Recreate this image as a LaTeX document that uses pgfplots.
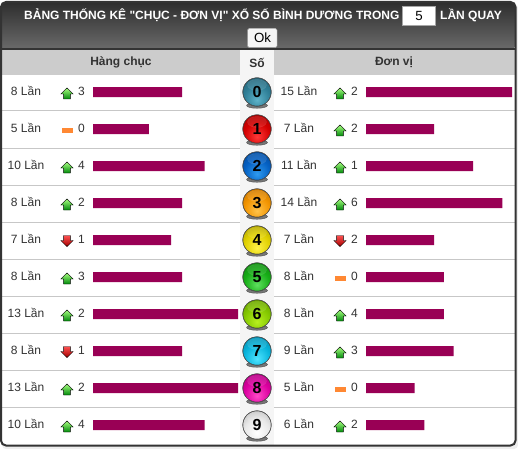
\documentclass[border=0pt]{standalone}
\usepackage{fontspec}
\setmainfont[Ligatures=TeXOff]{Liberation Sans}
\usepackage{pgfplots}
\pgfplotsset{compat=1.18}
\usepackage{pgfplotstable}
\definecolor{barc}{HTML}{990055}
\definecolor{txt}{HTML}{333333}
\definecolor{frame}{HTML}{333333}
\pgfplotstableread{
row left right
0 8 15
1 5 7
2 10 11
3 8 14
4 7 7
5 8 8
6 13 8
7 8 9
8 13 5
9 10 6
}\counts
% icon positions: x in pixels, y = row centre in pixels
\pgfplotstableread{
x y
67 93.5
67 167.5
67 204.5
67 278.5
67 315.5
67 389.5
67 426.5
340 93.5
340 130.5
340 167.5
340 204.5
340 315.5
340 352.5
340 426.5
}\upicons
\pgfplotstableread{
x y
67 241
67 352
340 241
}\downicons
\pgfplotstableread{
x y
67 130
340 278
340 389
}\flaticons
\pgfplotstableread{
x y d
257 92 0
257 129 1
257 166 2
257 203 3
257 240 4
257 277 5
257 314 6
257 351 7
257 388 8
257 425 9
}\digits
\definecolor{upt}{HTML}{A6FF80}
\definecolor{upb}{HTML}{00880A}
\definecolor{dnt}{HTML}{FF5050}
\definecolor{dnb}{HTML}{A00000}
\definecolor{flatc}{HTML}{FF8833}
\pgfdeclareplotmark{uparrow}{%
  \shade[top color=upt,bottom color=upb]
    (0,5.5pt)--(6.2pt,-0.5pt)--(3.4pt,-0.5pt)--(3.4pt,-5.5pt)--(-3.4pt,-5.5pt)--(-3.4pt,-0.5pt)--(-6.2pt,-0.5pt)--cycle;}
\pgfdeclareplotmark{downarrow}{%
  \shade[top color=dnt,bottom color=dnb]
    (0,-5.5pt)--(6.2pt,0.5pt)--(3.4pt,0.5pt)--(3.4pt,5.5pt)--(-3.4pt,5.5pt)--(-3.4pt,0.5pt)--(-6.2pt,0.5pt)--cycle;}
\pgfdeclareplotmark{flatmark}{%
  \fill[flatc] (-5pt,-2pt) rectangle (5pt,2pt);}
\newcommand\declball[4]{%
  \definecolor{bl#1}{HTML}{#2}\definecolor{bm#1}{HTML}{#3}\definecolor{bd#1}{HTML}{#4}%
  \pgfdeclareradialshading{shball#1}{\pgfpoint{0bp}{-14bp}}{%
    color(0bp)=(bl#1);color(22bp)=(bm#1);color(58bp)=(bd#1);color(100bp)=(bd#1)}%
  \pgfdeclareplotmark{ball#1}{%
    \fill[black!80,opacity=.65] (0,-13.5pt) ellipse (10.5pt and 2.8pt);
    \shade[shading=shball#1] (0,0) circle (14.2pt);
    \draw[black!60,line width=.4pt] (0,0) circle (14.2pt);
    \fill[white,opacity=.1] (0,7pt) ellipse (9.5pt and 5.5pt);
  }}
\declball{0}{5FB3C9}{2F7F97}{173F4F}
\declball{1}{FF3A3A}{D40000}{6A0000}
\declball{2}{2F9BEF}{0561C4}{02295F}
\declball{3}{FFC34A}{F29400}{8A4A00}
\declball{4}{FFF24A}{E0D000}{6F6800}
\declball{5}{5FE05F}{17AE17}{075207}
\declball{6}{B8F020}{84C800}{3F6400}
\declball{7}{4FE4FF}{08B4DC}{035870}
\declball{8}{FF4AC8}{DC00A0}{6A004E}
\declball{9}{FFFFFF}{E8E8E8}{8A8A8A}
\newcommand\rowtxt[5]{%
  \node[txt,font=\fontsize{12}{14}\selectfont] at (axis cs:26,#1-1) {#2 Lần};
  \node[txt,font=\fontsize{12}{14}\selectfont] at (axis cs:81.5,#1-1) {#3};
  \node[txt,font=\fontsize{12}{14}\selectfont] at (axis cs:299,#1-1) {#4 Lần};
  \node[txt,font=\fontsize{12}{14}\selectfont] at (axis cs:354.5,#1-1) {#5};
}
\begin{document}
\begin{tikzpicture}
\begin{axis}[at={(0pt,0pt)},anchor=south west,scale only axis,width=518pt,height=449pt,
  xmin=0,xmax=518,ymin=0,ymax=449,y dir=reverse,hide axis,clip=false]
\fill[white] (axis cs:0,0) rectangle (axis cs:518,449);
\fill[black!7,rounded corners=4pt] (axis cs:2,4) rectangle (axis cs:518,449);
\fill[white,rounded corners=5pt] (axis cs:1,2) rectangle (axis cs:515.5,445.5);
\shade[top color=black!82,bottom color=black!58,rounded corners=5pt]
  (axis cs:1,2) rectangle (axis cs:515.5,50);
\fill[white] (axis cs:2,50) rectangle (axis cs:514.5,444.5);
\fill[black!20] (axis cs:2,50) rectangle (axis cs:514.5,75);
\fill[black!4] (axis cs:240,50) rectangle (axis cs:274,444.5);
\foreach \yy in {111,148,185,222,259,296,333,370,407}{
  \edef\tmp{\noexpand\draw[black!22,line width=1pt] (axis cs:2,\yy) -- (axis cs:240,\yy);
  \noexpand\draw[black!22,line width=1pt] (axis cs:274,\yy) -- (axis cs:514.5,\yy);}\tmp}
\draw[frame,line width=2pt] (axis cs:1,49) -- (axis cs:515.5,49);
\draw[frame,line width=2pt,rounded corners=5pt] (axis cs:1,2) rectangle (axis cs:515.5,445.5);
% header
\node[white,font=\bfseries\fontsize{12}{14}\selectfont,anchor=west,inner sep=0pt] at (axis cs:24,15)
  {BẢNG THỐNG KÊ "CHỤC - ĐƠN VỊ" XỔ SỐ BÌNH DƯƠNG TRONG};
\filldraw[draw=black!35,fill=white] (axis cs:402.5,6.5) rectangle (axis cs:435.5,25.5);
\node[black,font=\fontsize{13.3}{14}\selectfont,inner sep=0pt] at (axis cs:419,16) {5};
\node[white,font=\bfseries\fontsize{12}{14}\selectfont,anchor=west,inner sep=0pt] at (axis cs:440,15) {LẦN QUAY};
\filldraw[draw=black!35,fill=black!4,rounded corners=1.5pt] (axis cs:247.5,28.5) rectangle (axis cs:277,47.5);
\node[black,font=\fontsize{13.3}{14}\selectfont] at (axis cs:262.5,38) {Ok};
\node[txt,font=\bfseries\fontsize{12}{14}\selectfont] at (axis cs:121,62.5) {Hàng chục};
\node[txt,font=\bfseries\fontsize{12}{14}\selectfont] at (axis cs:257,62.5) {Số};
\node[txt,font=\bfseries\fontsize{12}{14}\selectfont] at (axis cs:394,62.5) {Đơn vị};
% balls
\addplot[only marks,mark=ball0] coordinates {(257,92)};
\addplot[only marks,mark=ball1] coordinates {(257,129)};
\addplot[only marks,mark=ball2] coordinates {(257,166)};
\addplot[only marks,mark=ball3] coordinates {(257,203)};
\addplot[only marks,mark=ball4] coordinates {(257,240)};
\addplot[only marks,mark=ball5] coordinates {(257,277)};
\addplot[only marks,mark=ball6] coordinates {(257,314)};
\addplot[only marks,mark=ball7] coordinates {(257,351)};
\addplot[only marks,mark=ball8] coordinates {(257,388)};
\addplot[only marks,mark=ball9] coordinates {(257,425)};
% icons
\addplot[only marks,mark=uparrow] table[x=x,y=y] {\upicons};
\addplot[only marks,mark=downarrow] table[x=x,y=y] {\downicons};
\addplot[only marks,mark=flatmark] table[x=x,y=y] {\flaticons};
\rowtxt{92}{8}{3}{15}{2}
\rowtxt{129}{5}{0}{7}{2}
\rowtxt{166}{10}{4}{11}{1}
\rowtxt{203}{8}{2}{14}{6}
\rowtxt{240}{7}{1}{7}{2}
\rowtxt{277}{8}{3}{8}{0}
\rowtxt{314}{13}{2}{8}{4}
\rowtxt{351}{8}{1}{9}{3}
\rowtxt{388}{13}{2}{5}{0}
\rowtxt{425}{10}{4}{6}{2}
\end{axis}
% digits on the balls
\begin{axis}[at={(0pt,0pt)},anchor=south west,scale only axis,width=518pt,height=449pt,
  xmin=0,xmax=518,ymin=0,ymax=449,y dir=reverse,hide axis,clip=false]
\addplot[only marks,mark=none,nodes near coords,point meta=explicit symbolic,
  every node near coord/.style={black,anchor=center,inner sep=0pt,font=\bfseries\fontsize{16}{18}\selectfont}]
  table[x=x,y=y,meta=d] {\digits};
\end{axis}
% left bars: Hàng chục
\begin{axis}[at={(93pt,5.5pt)},anchor=south west,scale only axis,width=145pt,height=370pt,
  xmin=0,xmax=13,ymin=-0.5,ymax=9.5,y dir=reverse,hide axis,clip=false]
\addplot[xbar,bar width=10pt,bar shift=0pt,fill=barc,draw=none] table[x=left,y=row] {\counts};
\end{axis}
% right bars: Đơn vị
\begin{axis}[at={(366pt,5.5pt)},anchor=south west,scale only axis,width=146pt,height=370pt,
  xmin=0,xmax=15,ymin=-0.5,ymax=9.5,y dir=reverse,hide axis,clip=false]
\addplot[xbar,bar width=10pt,bar shift=0pt,fill=barc,draw=none] table[x=right,y=row] {\counts};
\end{axis}
\end{tikzpicture}
\end{document}
